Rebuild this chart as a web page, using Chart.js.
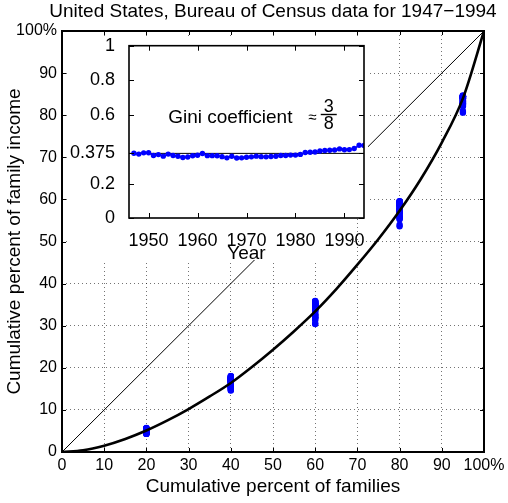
<!DOCTYPE html>
<html>
<head>
<meta charset="utf-8">
<script src="https://cdn.jsdelivr.net/npm/chart.js@4.4.0/dist/chart.umd.min.js"></script>
<style>
html, body { margin: 0; padding: 0; background: #fff; }
#wrap { position: relative; width: 508px; height: 503px; }
#main { position: absolute; left: 0; top: 0; }
#inset { position: absolute; left: 68px; top: 36px; }
</style>
</head>
<body>
<div id="wrap">
<canvas id="main" width="508" height="503"></canvas>
<canvas id="inset" width="300" height="236"></canvas>
</div>
<script>
// census years and the values
const years = [1947, 1948, 1949, 1950, 1951, 1952, 1953, 1954, 1955, 1956, 1957, 1958,
    1959, 1960, 1961, 1962, 1963, 1964, 1965, 1966, 1967, 1968, 1969, 1970,
    1971, 1972, 1973, 1974, 1975, 1976, 1977, 1978, 1979, 1980, 1981, 1982,
    1983, 1984, 1985, 1986, 1987, 1988, 1989, 1990, 1991, 1992, 1993, 1994];

const gini = [0.376, 0.371, 0.378, 0.379, 0.363, 0.368, 0.359, 0.371, 0.363, 0.358, 0.351, 0.354,
    0.361, 0.364, 0.374, 0.362, 0.362, 0.361, 0.356, 0.349, 0.358, 0.348, 0.349, 0.353,
    0.355, 0.359, 0.356, 0.355, 0.357, 0.358, 0.363, 0.363, 0.365, 0.365, 0.369, 0.380,
    0.382, 0.383, 0.389, 0.392, 0.393, 0.395, 0.401, 0.396, 0.397, 0.403, 0.422, 0.421];
const giniLevel = 0.375;

// cumulative percent of income at 20, 40, 60, 80, 95 percent of families
const quantiles = [20, 40, 60, 80, 95];
const cum20 = [5.0, 4.9, 4.5, 4.5, 5.0, 4.9, 4.7, 4.5, 4.8, 5.0, 5.1, 5.0,
    4.9, 4.8, 4.7, 5.0, 5.0, 5.1, 5.2, 5.6, 5.4, 5.6, 5.6, 5.4,
    5.5, 5.5, 5.5, 5.7, 5.6, 5.6, 5.5, 5.4, 5.4, 5.3, 5.3, 5.0,
    4.9, 4.8, 4.8, 4.7, 4.6, 4.6, 4.6, 4.6, 4.5, 4.4, 4.3, 4.3];
const cum40 = [16.9, 17.0, 16.4, 16.5, 17.4, 17.1, 17.2, 16.6, 17.1, 17.5, 17.8, 17.5,
    17.2, 17.0, 16.6, 17.1, 17.1, 17.1, 17.4, 18.0, 17.6, 18.0, 18.0, 17.6,
    17.5, 17.4, 17.4, 17.6, 17.3, 17.4, 17.2, 17.1, 17.0, 16.9, 16.7, 16.3,
    16.1, 15.8, 15.8, 15.6, 15.4, 15.3, 15.2, 15.4, 15.2, 14.9, 14.6, 14.7];
const cum60 = [33.9, 34.3, 33.7, 33.9, 35.0, 34.2, 35.2, 34.3, 34.9, 35.4, 35.9, 35.5,
    35.1, 34.8, 34.1, 34.7, 34.8, 34.8, 35.2, 35.8, 35.1, 35.7, 35.7, 35.2,
    35.1, 34.9, 34.9, 35.1, 34.9, 35.0, 34.8, 34.7, 34.5, 34.5, 34.2, 33.5,
    33.3, 32.8, 32.7, 32.5, 32.3, 32.0, 31.7, 32.0, 31.8, 31.3, 30.4, 30.5];
const cum80 = [57.0, 57.6, 57.2, 57.3, 58.4, 57.8, 59.1, 58.2, 58.7, 59.0, 59.6, 59.4,
    58.9, 58.7, 57.9, 58.7, 58.8, 58.8, 59.1, 59.5, 58.6, 59.5, 59.4, 59.1,
    58.9, 58.6, 58.9, 59.0, 58.9, 58.9, 58.7, 58.7, 58.6, 58.9, 58.8, 57.8,
    57.6, 57.1, 56.9, 56.6, 56.3, 56.0, 55.4, 55.7, 55.8, 55.3, 54.0, 53.6];
const cum95 = [82.5, 82.9, 83.1, 82.7, 83.2, 82.3, 84.2, 83.7, 83.6, 84.0, 84.4, 84.6,
    84.1, 84.1, 83.4, 84.3, 84.2, 84.1, 84.5, 84.4, 83.6, 84.4, 84.4, 84.4,
    84.3, 84.1, 84.5, 84.5, 84.5, 84.4, 84.3, 84.3, 84.2, 84.5, 84.7, 84.0,
    83.9, 83.5, 83.3, 83.0, 82.8, 82.8, 82.1, 82.6, 82.9, 82.4, 81.0, 80.6];

// fitted Lorenz curve
const curveX = [0, 5, 10, 15, 20, 25, 30, 35, 40, 45, 50, 55, 60, 65, 70, 75, 80, 85, 90, 95, 100];
const curveY = [0, 0.4, 1.5, 3.1, 5.1, 7.5, 10.2, 13.2, 16.4, 20.2, 24.3, 28.7, 33.4, 38.7, 44.5, 50.6, 57.3, 64.8, 73.5, 84.0, 100];
const equalityX = [0, 100];
const equalityY = [0, 100];

const mainTicks = [0, 10, 20, 30, 40, 50, 60, 70, 80, 90, 100];
const insetXTicks = [1950, 1960, 1970, 1980, 1990];
const insetYTicks = [0, 0.2, 0.375, 0.6, 0.8, 1];

const FONT = "'Liberation Sans', Arial, Helvetica, sans-serif";
const tickFont = {family: FONT, size: 16};
const insetTickFont = {family: FONT, size: 18};
const labelFont = {family: FONT, size: 19};
const BLUE = '#0000ff';

const toPoints = (xs, ys) => xs.map((x, i) => ({x: x, y: ys[i]}));

let scatterPoints = [];
[cum20, cum40, cum60, cum80, cum95].forEach((arr, q) => {
    arr.forEach(v => scatterPoints.push({x: quantiles[q], y: v}));
});

// axes box with inward ticks, like the original plot
const boxPlugin = {
    id: 'box',
    afterDatasetsDraw(chart, args, opts) {
        const {ctx, chartArea: a, scales: {x, y}} = chart;
        ctx.save();
        ctx.strokeStyle = '#000';
        ctx.lineWidth = 1;
        ctx.beginPath();
        x.ticks.forEach(t => {
            const px = Math.round(x.getPixelForValue(t.value)) + 0.5;
            ctx.moveTo(px, a.bottom); ctx.lineTo(px, a.bottom - opts.len);
            ctx.moveTo(px, a.top); ctx.lineTo(px, a.top + opts.len);
        });
        y.ticks.forEach(t => {
            const py = Math.round(y.getPixelForValue(t.value)) + 0.5;
            ctx.moveTo(a.left, py); ctx.lineTo(a.left + opts.len, py);
            ctx.moveTo(a.right, py); ctx.lineTo(a.right - opts.len, py);
        });
        ctx.stroke();
        ctx.lineWidth = opts.width;
        ctx.strokeRect(a.left, a.top, a.right - a.left, a.bottom - a.top);
        ctx.restore();
    }
};

// white backing of the inset: the plot box plus the band under it
const insetBack = {
    id: 'insetBack',
    beforeDraw(chart) {
        const {ctx, chartArea: a} = chart;
        ctx.save();
        ctx.fillStyle = '#fff';
        ctx.fillRect(0, 0, a.right + 4, a.bottom);
        ctx.fillRect(0, a.bottom, 282, 42);
        ctx.restore();
    }
};

const titlePlugin = {
    id: 'topTitle',
    afterDraw(chart) {
        const {ctx, chartArea: a} = chart;
        ctx.save();
        ctx.fillStyle = '#000';
        ctx.font = '19px ' + FONT;
        ctx.textAlign = 'center';
        ctx.textBaseline = 'middle';
        ctx.fillText('United States, Bureau of Census data for 1947\u22121994', (a.left + a.right) / 2, 12);
        ctx.restore();
    }
};

const giniLabel = {
    id: 'giniLabel',
    afterDraw(chart) {
        const {ctx, scales: {x, y}} = chart;
        ctx.save();
        ctx.fillStyle = '#000';
        ctx.strokeStyle = '#000';
        ctx.font = '19px ' + FONT;
        ctx.textBaseline = 'middle';
        ctx.textAlign = 'left';
        ctx.fillText('Gini coefficient', x.getPixelForValue(1954), y.getPixelForValue(0.583));
        ctx.font = '15px ' + FONT;
        ctx.fillText('\u2248', x.getPixelForValue(1982.6), y.getPixelForValue(0.583));
        const fx = x.getPixelForValue(1986.8);
        const by = Math.round(y.getPixelForValue(0.604)) + 0.5;
        ctx.font = '18px ' + FONT;
        ctx.textAlign = 'center';
        ctx.fillText('3', fx, y.getPixelForValue(0.643));
        ctx.fillText('8', fx, y.getPixelForValue(0.548));
        ctx.lineWidth = 1.4;
        ctx.beginPath();
        ctx.moveTo(fx - 8, by); ctx.lineTo(fx + 8, by);
        ctx.stroke();
        ctx.restore();
    }
};

new Chart(document.getElementById('main'), {
    type: 'scatter',
    data: {
        datasets: [
            {
                data: toPoints(curveX, curveY),
                showLine: true,
                borderColor: '#000',
                borderWidth: 2.6,
                pointRadius: 0,
                cubicInterpolationMode: 'monotone',
                order: 0
            },
            {
                data: scatterPoints,
                backgroundColor: BLUE,
                borderColor: BLUE,
                borderWidth: 0,
                pointRadius: 3.2,
                order: 1
            },
            {
                data: toPoints(equalityX, equalityY),
                showLine: true,
                borderColor: '#000',
                borderWidth: 1,
                pointRadius: 0,
                order: 2
            }
        ]
    },
    options: {
        responsive: false,
        animation: false,
        events: [],
        layout: {padding: {top: 31, right: 24, left: 0, bottom: 0}},
        plugins: {
            legend: {display: false},
            tooltip: {enabled: false},
            box: {width: 2, len: 4}
        },
        scales: {
            x: {
                type: 'linear', min: 0, max: 100,
                afterBuildTicks: s => { s.ticks = mainTicks.map(v => ({value: v})); },
                afterFit: s => { s.height = 51; s.paddingLeft = 0; s.paddingRight = 0; },
                grid: {color: 'rgba(0,0,0,0.55)', lineWidth: 1, drawTicks: false},
                border: {display: false, dash: [1, 3]},
                ticks: {
                    color: '#000', font: tickFont, padding: 4.4, maxRotation: 0, autoSkip: false,
                    callback: v => v === 100 ? '100%' : String(v)
                },
                title: {
                    display: true, text: 'Cumulative percent of families', color: '#000',
                    font: labelFont, padding: {top: 0, bottom: 4.6}
                }
            },
            y: {
                type: 'linear', min: 0, max: 100,
                afterBuildTicks: s => { s.ticks = mainTicks.map(v => ({value: v})); },
                afterFit: s => { s.width = 62; s.paddingTop = 0; s.paddingBottom = 0; },
                grid: {color: 'rgba(0,0,0,0.55)', lineWidth: 1, drawTicks: false},
                border: {display: false, dash: [1, 3]},
                ticks: {
                    color: '#000', font: tickFont, padding: 5, autoSkip: false,
                    callback: v => v === 100 ? '100%' : String(v)
                },
                title: {
                    display: true, text: 'Cumulative percent of family income', color: '#000',
                    font: labelFont, padding: {top: 3.6, bottom: 0}
                }
            }
        }
    },
    plugins: [boxPlugin, titlePlugin]
});

new Chart(document.getElementById('inset'), {
    type: 'scatter',
    data: {
        datasets: [
            {
                data: toPoints(years, gini),
                showLine: true,
                borderColor: BLUE,
                backgroundColor: BLUE,
                borderWidth: 1.5,
                pointRadius: 2.7,
                pointBorderWidth: 0,
                order: 0
            },
            {
                data: [{x: 1946, y: giniLevel}, {x: 1994, y: giniLevel}],
                showLine: true,
                borderColor: '#000',
                borderWidth: 1,
                pointRadius: 0,
                order: 1
            }
        ]
    },
    options: {
        responsive: false,
        animation: false,
        events: [],
        layout: {padding: {top: 9.7, right: 4, left: 0, bottom: 0}},
        plugins: {
            legend: {display: false},
            tooltip: {enabled: false},
            box: {width: 1.6, len: 5}
        },
        scales: {
            x: {
                type: 'linear', min: 1946, max: 1994,
                afterBuildTicks: s => { s.ticks = insetXTicks.map(v => ({value: v})); },
                afterFit: s => { s.height = 54; s.paddingLeft = 0; s.paddingRight = 0; },
                grid: {display: false},
                border: {display: false},
                ticks: {
                    color: '#000', font: insetTickFont, padding: 4.2, maxRotation: 0, autoSkip: false,
                    callback: v => String(v)
                },
                title: {
                    display: true, text: 'Year', color: '#000', font: labelFont,
                    padding: {top: 0, bottom: 6.6}
                }
            },
            y: {
                type: 'linear', min: 0, max: 1,
                afterBuildTicks: s => { s.ticks = insetYTicks.map(v => ({value: v})); },
                afterFit: s => { s.width = 61; s.paddingTop = 0; s.paddingBottom = 0; },
                grid: {display: false},
                border: {display: false},
                ticks: {
                    color: '#000', font: insetTickFont, padding: 6, autoSkip: false,
                    callback: v => String(v)
                }
            }
        }
    },
    plugins: [insetBack, boxPlugin, giniLabel]
});
</script>
</body>
</html>
